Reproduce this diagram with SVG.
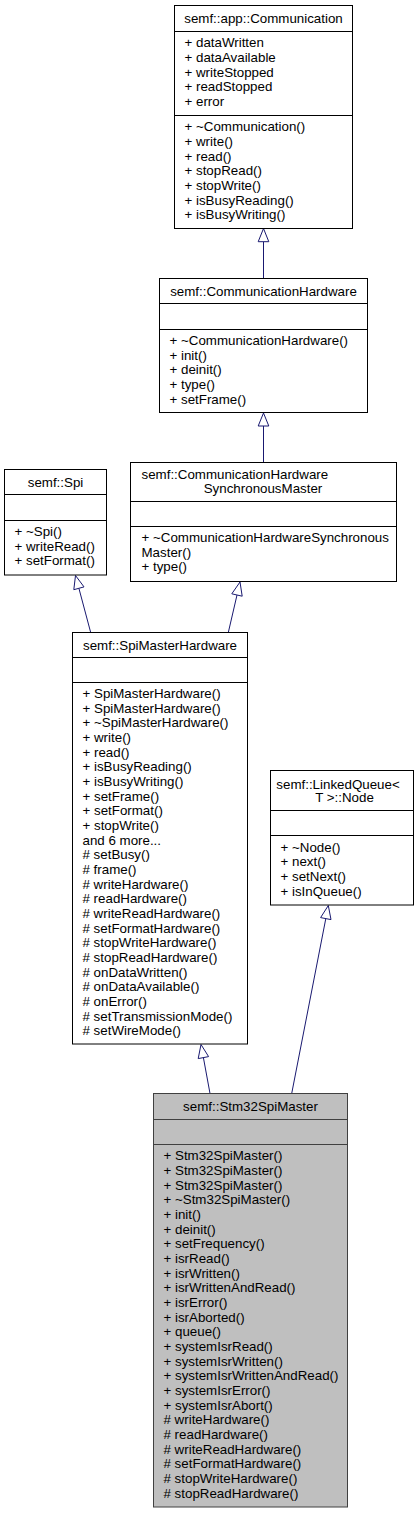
<svg xmlns="http://www.w3.org/2000/svg" width="419" height="1513" viewBox="0 0 419 1513">
<style>
text{font-family:"Liberation Sans",Arial,Helvetica,sans-serif;font-size:13.33px;fill:#000}
.c{text-anchor:middle}
.box{fill:#fff;stroke:#000;stroke-width:1}
.hl{fill:#bfbfbf;stroke:#404040;stroke-width:1}
.sep{stroke:#000;stroke-width:1}
.hsep{stroke:#404040;stroke-width:1}
.edge{stroke:#191970;stroke-width:1;fill:none}
.head{stroke:#191970;stroke-width:1;fill:#fff}
</style>
<rect width="419" height="1513" fill="#fff"/>
<g id="connectors">
<path class="edge" d="M263.5,278 L263.5,241.7"/>
<polygon class="head" points="263.5,228.5 258.2,241.7 268.8,241.7"/>
<path class="edge" d="M263.5,462 L263.5,426"/>
<polygon class="head" points="263.5,413 258.2,426 268.8,426"/>
<path class="edge" d="M90.7,632.5 L78.9,588.3"/>
<polygon class="head" points="75.5,575.5 73.8,589.7 84,586.9"/>
<path class="edge" d="M228.3,632.5 L237,595"/>
<polygon class="head" points="240,582 242.2,596.2 231.8,593.8"/>
<path class="edge" d="M210,1093.5 L203.4,1057.6"/>
<polygon class="head" points="201,1044.5 208.6,1056.6 198.2,1058.6"/>
<path class="edge" d="M291.7,1093.5 L325.8,918.6"/>
<polygon class="head" points="328.3,905.5 331,919.6 320.6,917.6"/>
</g>
<g id="node_communication">
<rect class="box" x="174.5" y="5.5" width="178" height="223"/>
<line class="sep" x1="174.5" y1="31.5" x2="352.5" y2="31.5"/>
<line class="sep" x1="174.5" y1="115.5" x2="352.5" y2="115.5"/>
<text class="c" x="263.5" y="22.5">semf::app::Communication</text>
<text x="184.5" y="47.2">+ dataWritten</text>
<text x="184.5" y="61.9">+ dataAvailable</text>
<text x="184.5" y="76.5">+ writeStopped</text>
<text x="184.5" y="91.2">+ readStopped</text>
<text x="184.5" y="105.9">+ error</text>
<text x="184.5" y="131.2">+ ~Communication()</text>
<text x="184.5" y="145.9">+ write()</text>
<text x="184.5" y="160.5">+ read()</text>
<text x="184.5" y="175.2">+ stopRead()</text>
<text x="184.5" y="189.9">+ stopWrite()</text>
<text x="184.5" y="204.5">+ isBusyReading()</text>
<text x="184.5" y="219.2">+ isBusyWriting()</text>
</g>
<g id="node_communication_hardware">
<rect class="box" x="159.5" y="278.5" width="208" height="134"/>
<line class="sep" x1="159.5" y1="303.5" x2="367.5" y2="303.5"/>
<line class="sep" x1="159.5" y1="329.5" x2="367.5" y2="329.5"/>
<text class="c" x="263.5" y="295.5">semf::CommunicationHardware</text>
<text x="169.5" y="345">+ ~CommunicationHardware()</text>
<text x="169.5" y="359.7">+ init()</text>
<text x="169.5" y="374.3">+ deinit()</text>
<text x="169.5" y="389">+ type()</text>
<text x="169.5" y="403.7">+ setFrame()</text>
</g>
<g id="node_spi">
<rect class="box" x="4.5" y="469.5" width="102" height="105.5"/>
<line class="sep" x1="4.5" y1="494.5" x2="106.5" y2="494.5"/>
<line class="sep" x1="4.5" y1="520.5" x2="106.5" y2="520.5"/>
<text class="c" x="55.5" y="486.5">semf::Spi</text>
<text x="14.5" y="536">+ ~Spi()</text>
<text x="14.5" y="550.7">+ writeRead()</text>
<text x="14.5" y="565.3">+ setFormat()</text>
</g>
<g id="node_sync_master">
<rect class="box" x="130.5" y="462.5" width="266" height="119"/>
<line class="sep" x1="130.5" y1="501.5" x2="396.5" y2="501.5"/>
<line class="sep" x1="130.5" y1="526.5" x2="396.5" y2="526.5"/>
<text x="141.5" y="478.5">semf::CommunicationHardware</text>
<text class="c" x="263" y="493">SynchronousMaster</text>
<text x="141.5" y="542">+ ~CommunicationHardwareSynchronous</text>
<text x="141.5" y="556.7">Master()</text>
<text x="141.5" y="571.3">+ type()</text>
</g>
<g id="node_spi_master_hardware">
<rect class="box" x="72.5" y="632.5" width="175" height="411.5"/>
<line class="sep" x1="72.5" y1="657.5" x2="247.5" y2="657.5"/>
<line class="sep" x1="72.5" y1="682.5" x2="247.5" y2="682.5"/>
<text class="c" x="160" y="649.5">semf::SpiMasterHardware</text>
<text x="82.5" y="698">+ SpiMasterHardware()</text>
<text x="82.5" y="712.7">+ SpiMasterHardware()</text>
<text x="82.5" y="727.3">+ ~SpiMasterHardware()</text>
<text x="82.5" y="742">+ write()</text>
<text x="82.5" y="756.7">+ read()</text>
<text x="82.5" y="771.3">+ isBusyReading()</text>
<text x="82.5" y="786">+ isBusyWriting()</text>
<text x="82.5" y="800.7">+ setFrame()</text>
<text x="82.5" y="815.3">+ setFormat()</text>
<text x="82.5" y="830">+ stopWrite()</text>
<text x="82.5" y="844.7">and 6 more...</text>
<text x="82.5" y="859.3"># setBusy()</text>
<text x="82.5" y="874"># frame()</text>
<text x="82.5" y="888.7"># writeHardware()</text>
<text x="82.5" y="903.3"># readHardware()</text>
<text x="82.5" y="918"># writeReadHardware()</text>
<text x="82.5" y="932.7"># setFormatHardware()</text>
<text x="82.5" y="947.3"># stopWriteHardware()</text>
<text x="82.5" y="962"># stopReadHardware()</text>
<text x="82.5" y="976.7"># onDataWritten()</text>
<text x="82.5" y="991.3"># onDataAvailable()</text>
<text x="82.5" y="1006"># onError()</text>
<text x="82.5" y="1020.7"># setTransmissionMode()</text>
<text x="82.5" y="1035.3"># setWireMode()</text>
</g>
<g id="node_linked_queue_node">
<rect class="box" x="270.5" y="770.5" width="143" height="134.5"/>
<line class="sep" x1="270.5" y1="810.5" x2="413.5" y2="810.5"/>
<line class="sep" x1="270.5" y1="835.5" x2="413.5" y2="835.5"/>
<text class="c" x="338" y="788.5">semf::LinkedQueue&lt;</text>
<text class="c" x="344.5" y="802">T &gt;::Node</text>
<text x="280.5" y="851.5">+ ~Node()</text>
<text x="280.5" y="866.2">+ next()</text>
<text x="280.5" y="880.8">+ setNext()</text>
<text x="280.5" y="895.5">+ isInQueue()</text>
</g>
<g id="node_stm32_spi_master">
<rect class="hl" x="153.5" y="1093.5" width="194" height="413.5"/>
<line class="hsep" x1="153.5" y1="1119.5" x2="347.5" y2="1119.5"/>
<line class="hsep" x1="153.5" y1="1144.5" x2="347.5" y2="1144.5"/>
<text class="c" x="250.5" y="1110.5">semf::Stm32SpiMaster</text>
<text x="163.5" y="1160.2">+ Stm32SpiMaster()</text>
<text x="163.5" y="1174.9">+ Stm32SpiMaster()</text>
<text x="163.5" y="1189.5">+ Stm32SpiMaster()</text>
<text x="163.5" y="1204.2">+ ~Stm32SpiMaster()</text>
<text x="163.5" y="1218.9">+ init()</text>
<text x="163.5" y="1233.5">+ deinit()</text>
<text x="163.5" y="1248.2">+ setFrequency()</text>
<text x="163.5" y="1262.9">+ isrRead()</text>
<text x="163.5" y="1277.5">+ isrWritten()</text>
<text x="163.5" y="1292.2">+ isrWrittenAndRead()</text>
<text x="163.5" y="1306.9">+ isrError()</text>
<text x="163.5" y="1321.5">+ isrAborted()</text>
<text x="163.5" y="1336.2">+ queue()</text>
<text x="163.5" y="1350.9">+ systemIsrRead()</text>
<text x="163.5" y="1365.5">+ systemIsrWritten()</text>
<text x="163.5" y="1380.2">+ systemIsrWrittenAndRead()</text>
<text x="163.5" y="1394.9">+ systemIsrError()</text>
<text x="163.5" y="1409.5">+ systemIsrAbort()</text>
<text x="163.5" y="1424.2"># writeHardware()</text>
<text x="163.5" y="1438.9"># readHardware()</text>
<text x="163.5" y="1453.5"># writeReadHardware()</text>
<text x="163.5" y="1468.2"># setFormatHardware()</text>
<text x="163.5" y="1482.9"># stopWriteHardware()</text>
<text x="163.5" y="1497.5"># stopReadHardware()</text>
</g>
</svg>
